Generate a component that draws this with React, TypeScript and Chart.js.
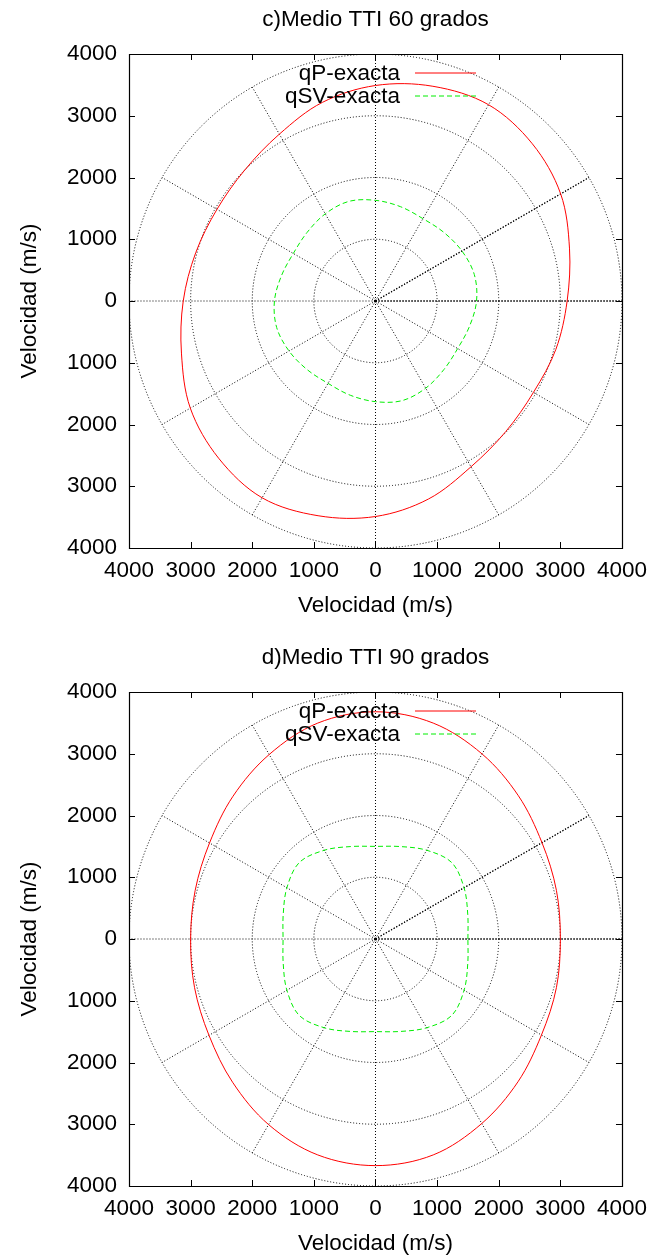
import React, { useEffect, useRef } from "react";
import { Chart, registerables } from "chart.js";

Chart.register(...registerables);

// ---- Data ----
const ANGLES_DEG = [0, 15, 30, 45, 60, 75, 90, 105, 120, 135, 150, 165, 180, 195, 210, 225, 240, 255, 270, 285, 300, 315, 330, 345];

// c) TTI 60 grados
const QP_60 = [3110, 3260, 3470, 3600, 3670, 3600, 3490, 3330, 3120, 3000, 2970, 3020, 3120, 3260, 3470, 3600, 3680, 3600, 3490, 3320, 3100, 2990, 2960, 3030];
const QSV_60 = [1640, 1660, 1620, 1570, 1540, 1580, 1630, 1670, 1630, 1570, 1540, 1580, 1640, 1660, 1620, 1570, 1540, 1580, 1630, 1670, 1630, 1570, 1540, 1580];

// d) TTI 90 grados
const QP_90 = [3000, 3040, 3120, 3280, 3460, 3620, 3680, 3620, 3450, 3270, 3110, 3030, 3000, 3040, 3120, 3280, 3470, 3620, 3670, 3620, 3450, 3270, 3110, 3040];
const QSV_90 = [1500, 1550, 1660, 1750, 1660, 1550, 1500, 1550, 1660, 1750, 1660, 1550, 1500, 1550, 1660, 1750, 1660, 1550, 1500, 1550, 1660, 1750, 1660, 1550];

const AXIS_TICKS = [-4000, -3000, -2000, -1000, 0, 1000, 2000, 3000, 4000];
const GRID_RADII = [1000, 2000, 3000, 4000];
const GRID_SPOKES_DEG = [0, 30, 60, 90, 120, 150, 180, 210, 240, 270, 300, 330];
const BOLD_SPOKES_DEG = [0, 30];

const TITLE_60 = "c)Medio TTI 60 grados";
const TITLE_90 = "d)Medio TTI 90 grados";
const AXIS_TITLE = "Velocidad (m/s)";
const LABEL_QP = "qP-exacta";
const LABEL_QSV = "qSV-exacta";

// ---- Styles ----
const FONT_FAMILY = '"Liberation Sans", Arial, Helvetica, sans-serif';
const FONT_SIZE = 22.5;
const RED = "#ff0000";
const GREEN = "#00ee00";
const GREEN_DASH = [5, 3];

function toLoopPoints(radii: number[]) {
  const pts = ANGLES_DEG.map((a, i) => ({
    x: radii[i] * Math.cos((a * Math.PI) / 180),
    y: radii[i] * Math.sin((a * Math.PI) / 180),
  }));
  const n = pts.length;
  // wrap-around neighbours so the closed curve is smooth; the extra segments are hidden
  return [pts[n - 1], ...pts, pts[0], pts[1]];
}

function hiddenEnds(n: number) {
  return {
    borderColor: (ctx: any) =>
      ctx.p0DataIndex === 0 || ctx.p0DataIndex === n + 1 ? "rgba(0,0,0,0)" : undefined,
  };
}

function makePlugin(title: string) {
  return {
    id: "gnuplotPolar",
    beforeDatasetsDraw(chart: any) {
      const { ctx, chartArea } = chart;
      const xs = chart.scales.x;
      const ys = chart.scales.y;
      const cx = xs.getPixelForValue(0);
      const cy = ys.getPixelForValue(0);
      ctx.save();
      ctx.beginPath();
      ctx.rect(chartArea.left, chartArea.top, chartArea.right - chartArea.left, chartArea.bottom - chartArea.top);
      ctx.clip();
      ctx.lineWidth = 1;
      ctx.strokeStyle = "#000";
      ctx.setLineDash([1, 2]);
      for (const r of GRID_RADII) {
        const rx = xs.getPixelForValue(r) - cx;
        const ry = cy - ys.getPixelForValue(r);
        ctx.beginPath();
        ctx.ellipse(cx, cy, rx, ry, 0, 0, Math.PI * 2);
        ctx.stroke();
      }
      const rMax = GRID_RADII[GRID_RADII.length - 1];
      for (const a of GRID_SPOKES_DEG) {
        const t = (a * Math.PI) / 180;
        ctx.beginPath();
        ctx.moveTo(cx, cy);
        ctx.lineTo(xs.getPixelForValue(rMax * Math.cos(t)), ys.getPixelForValue(rMax * Math.sin(t)));
        ctx.stroke();
      }
      ctx.lineWidth = 1.3;
      ctx.setLineDash([1.2, 1.8]);
      for (const a of BOLD_SPOKES_DEG) {
        const t = (a * Math.PI) / 180;
        ctx.beginPath();
        ctx.moveTo(cx, cy);
        ctx.lineTo(xs.getPixelForValue(rMax * Math.cos(t)), ys.getPixelForValue(rMax * Math.sin(t)));
        ctx.stroke();
      }
      ctx.setLineDash([]);
      ctx.fillStyle = "#000";
      ctx.beginPath();
      ctx.arc(cx, cy, 1.6, 0, Math.PI * 2);
      ctx.fill();
      ctx.restore();
    },
    afterDatasetsDraw(chart: any) {
      const { ctx, chartArea } = chart;
      const xs = chart.scales.x;
      const ys = chart.scales.y;
      const { left, right, top, bottom } = chartArea;
      ctx.save();
      ctx.setLineDash([]);
      ctx.strokeStyle = "#000";
      ctx.lineWidth = 1.2;
      ctx.beginPath();
      ctx.rect(Math.round(left) + 0.5, Math.round(top) + 0.5, Math.round(right - left), Math.round(bottom - top));
      ctx.stroke();
      ctx.lineWidth = 1;
      const tl = 6;
      ctx.beginPath();
      for (const v of AXIS_TICKS) {
        const px = Math.round(xs.getPixelForValue(v)) + 0.5;
        ctx.moveTo(px, bottom);
        ctx.lineTo(px, bottom - tl);
        ctx.moveTo(px, top);
        ctx.lineTo(px, top + tl);
        const py = Math.round(ys.getPixelForValue(v)) + 0.5;
        ctx.moveTo(left, py);
        ctx.lineTo(left + tl, py);
        ctx.moveTo(right, py);
        ctx.lineTo(right - tl, py);
      }
      ctx.stroke();

      // legend (inside plot, top)
      ctx.font = `${FONT_SIZE}px ${FONT_FAMILY}`;
      ctx.fillStyle = "#000";
      ctx.textAlign = "right";
      ctx.textBaseline = "middle";
      const textRight = left + 271;
      const sx0 = left + 286;
      const sx1 = left + 347;
      const y1 = top + 19;
      const y2 = top + 42;
      ctx.fillText(LABEL_QP, textRight, y1 + 1);
      ctx.fillText(LABEL_QSV, textRight, y2 + 1);
      ctx.lineWidth = 1;
      ctx.strokeStyle = RED;
      ctx.beginPath();
      ctx.moveTo(sx0, y1);
      ctx.lineTo(sx1, y1);
      ctx.stroke();
      ctx.strokeStyle = GREEN;
      ctx.setLineDash(GREEN_DASH);
      ctx.beginPath();
      ctx.moveTo(sx0, y2);
      ctx.lineTo(sx1, y2);
      ctx.stroke();
      ctx.restore();
    },
    afterDraw(chart: any) {
      const { ctx, chartArea } = chart;
      const midX = (chartArea.left + chartArea.right) / 2;
      const midY = (chartArea.top + chartArea.bottom) / 2;
      ctx.save();
      ctx.font = `${FONT_SIZE}px ${FONT_FAMILY}`;
      ctx.fillStyle = "#000";
      ctx.textAlign = "center";
      ctx.textBaseline = "middle";
      ctx.fillText(title, midX, chartArea.top - 34);
      ctx.fillText(AXIS_TITLE, midX, chartArea.bottom + 58);
      ctx.translate(chartArea.left - 99, midY);
      ctx.rotate(-Math.PI / 2);
      ctx.fillText(AXIS_TITLE, 0, 0);
      ctx.restore();
    },
  };
}

function PolarChart({ title, qp, qsv, height }: { title: string; qp: number[]; qsv: number[]; height: number }) {
  const ref = useRef<HTMLCanvasElement>(null);
  useEffect(() => {
    const n = ANGLES_DEG.length;
    const plotHeight = 494;
    const top = 54;
    const font = { family: FONT_FAMILY, size: FONT_SIZE };
    const chart = new Chart(ref.current as HTMLCanvasElement, {
      type: "scatter",
      data: {
        datasets: [
          {
            label: LABEL_QP,
            data: toLoopPoints(qp),
            showLine: true,
            borderColor: RED,
            borderWidth: 1,
            pointRadius: 0,
            tension: 0.34,
            fill: false,
            segment: hiddenEnds(n),
          } as any,
          {
            label: LABEL_QSV,
            data: toLoopPoints(qsv),
            showLine: true,
            borderColor: GREEN,
            borderWidth: 1,
            borderDash: GREEN_DASH,
            pointRadius: 0,
            tension: 0.34,
            fill: false,
            segment: hiddenEnds(n),
          } as any,
        ],
      },
      options: {
        responsive: false,
        animation: false,
        events: [],
        layout: { padding: { top, right: 31, left: 0, bottom: 0 } },
        plugins: { legend: { display: false }, title: { display: false }, tooltip: { enabled: false } },
        scales: {
          x: {
            type: "linear",
            min: -4000,
            max: 4000,
            grid: { display: false, drawTicks: false },
            border: { display: false },
            afterBuildTicks: (scale: any) => {
              scale.ticks = AXIS_TICKS.map((v) => ({ value: v }));
            },
            afterFit: (scale: any) => {
              scale.height = height - top - plotHeight;
            },
            ticks: {
              autoSkip: false,
              maxRotation: 0,
              minRotation: 0,
              padding: 9,
              color: "#000",
              font,
              callback: (v: any) => String(Math.abs(Number(v))),
            },
          },
          y: {
            type: "linear",
            min: -4000,
            max: 4000,
            grid: { display: false, drawTicks: false },
            border: { display: false },
            afterBuildTicks: (scale: any) => {
              scale.ticks = AXIS_TICKS.map((v) => ({ value: v }));
            },
            afterFit: (scale: any) => {
              scale.width = 129;
            },
            ticks: {
              autoSkip: false,
              padding: 12,
              color: "#000",
              font,
              callback: (v: any) => String(Math.abs(Number(v))),
            },
          },
        },
      } as any,
      plugins: [makePlugin(title)],
    });
    return () => chart.destroy();
  }, [title, qp, qsv, height]);
  return <canvas ref={ref} width={656} height={height} style={{ display: "block", width: 656, height }} />;
}

export default function App() {
  return (
    <div style={{ position: "absolute", left: 0, top: 0, width: 656, height: 1260, background: "#fff" }}>
      <PolarChart title={TITLE_60} qp={QP_60} qsv={QSV_60} height={638} />
      <PolarChart title={TITLE_90} qp={QP_90} qsv={QSV_90} height={622} />
    </div>
  );
}
